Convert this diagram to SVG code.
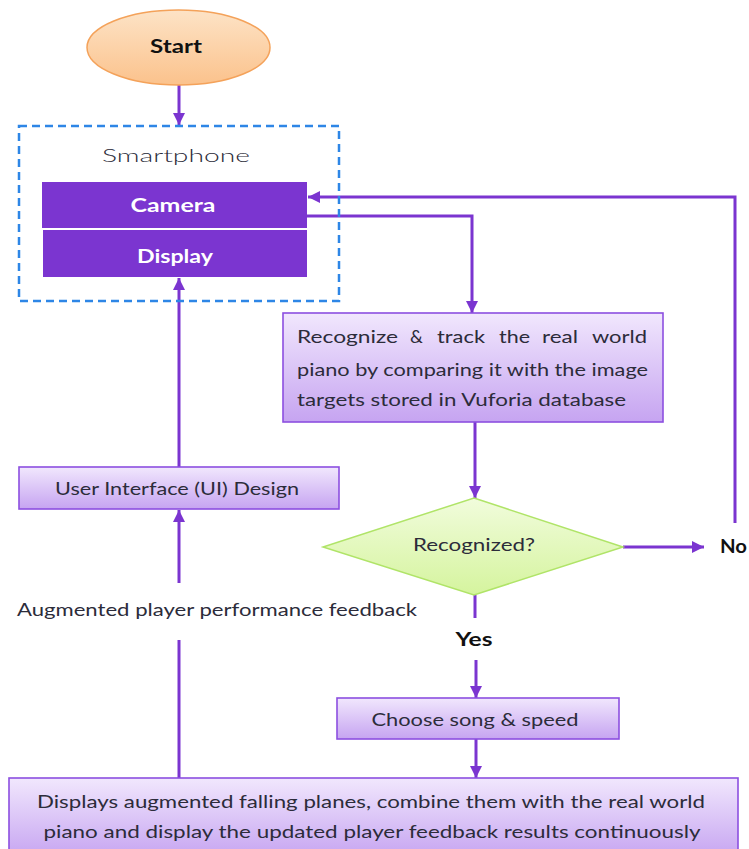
<svg xmlns="http://www.w3.org/2000/svg" width="749" height="849" viewBox="0 0 749 849">
<defs>
<linearGradient id="gLav" x1="0" y1="0" x2="0" y2="1"><stop offset="0" stop-color="#f1e7fd"/><stop offset="1" stop-color="#c6a4f1"/></linearGradient>
<linearGradient id="gOr" x1="0" y1="0" x2="0" y2="1"><stop offset="0" stop-color="#fde3c6"/><stop offset="1" stop-color="#fbc28c"/></linearGradient>
<linearGradient id="gGr" x1="0" y1="0" x2="0" y2="1"><stop offset="0" stop-color="#f1fcdc"/><stop offset="1" stop-color="#d5f49e"/></linearGradient>
<marker id="ah" markerWidth="12" markerHeight="12" refX="10" refY="5" orient="auto" markerUnits="userSpaceOnUse" viewBox="0 0 10 10"><path d="M0,0 L10,5 L0,10 z" fill="#7b35d0"/></marker>
</defs>
<style>
.t{font-family:Lato,"Open Sans","Liberation Sans",sans-serif;fill:#2c2c3a;font-size:18px}
.b{font-weight:bold;fill:#111}
.w{font-family:Lato,"Open Sans","Liberation Sans",sans-serif;font-weight:bold;fill:#ffffff;font-size:19px}
.lav{fill:url(#gLav);stroke:#8c4fe0;stroke-width:1.6}
.c{fill:none;stroke:#7b35d0;stroke-width:3}
.ca{fill:none;stroke:#7b35d0;stroke-width:3;marker-end:url(#ah)}
</style>
<rect width="749" height="849" fill="#ffffff"/>

<g id="connectors">
<path class="ca" d="M179 85 V125"/>
<path class="ca" d="M307 216 H472 V313"/>
<path class="ca" d="M475 422 V498"/>
<path class="ca" d="M623 547 H704"/>
<path class="ca" d="M735 523 V197 H308"/>
<path class="c" d="M475 595 V618"/>
<path class="ca" d="M476 660 V698"/>
<path class="ca" d="M476 739 V778"/>
<path class="c" d="M179 778 V640"/>
<path class="ca" d="M179 583 V510"/>
<path class="ca" d="M179 467 V278"/>
</g>

<g id="start">
<ellipse cx="178.5" cy="47.5" rx="91.5" ry="37.5" fill="url(#gOr)" stroke="#f4a25a" stroke-width="1.5"/>
<text class="t b" x="176" y="53" text-anchor="middle" font-size="19" textLength="52" lengthAdjust="spacingAndGlyphs">Start</text>
</g>

<g id="smartphone">
<rect x="19" y="126" width="320" height="175" fill="none" stroke="#2e86e6" stroke-width="2.5" stroke-dasharray="8,5"/>
<text class="t" x="176" y="162" text-anchor="middle" font-size="23" font-weight="300" fill="#3e3e4a" textLength="148" lengthAdjust="spacingAndGlyphs">Smartphone</text>
</g>

<g id="camera">
<rect x="42" y="182" width="265" height="46" fill="#7b35d0"/>
<text class="w" x="173" y="212" text-anchor="middle" textLength="85" lengthAdjust="spacingAndGlyphs">Camera</text>
</g>

<g id="display">
<rect x="43" y="230" width="264" height="47" fill="#7b35d0"/>
<text class="w" x="175" y="263" text-anchor="middle" textLength="76" lengthAdjust="spacingAndGlyphs">Display</text>
</g>

<g id="recognize">
<rect class="lav" x="283" y="313" width="380" height="109"/>
<text class="t" y="343"><tspan x="297" textLength="101" lengthAdjust="spacingAndGlyphs">Recognize</tspan><tspan x="410">&amp;</tspan><tspan x="437" textLength="48" lengthAdjust="spacingAndGlyphs">track</tspan><tspan x="499" textLength="31" lengthAdjust="spacingAndGlyphs">the</tspan><tspan x="542" textLength="36" lengthAdjust="spacingAndGlyphs">real</tspan><tspan x="592" textLength="55" lengthAdjust="spacingAndGlyphs">world</tspan></text>
<text class="t" x="297" y="376" textLength="351" lengthAdjust="spacingAndGlyphs">piano by comparing it with the image</text>
<text class="t" x="297" y="406" textLength="329" lengthAdjust="spacingAndGlyphs">targets stored in Vuforia database</text>
</g>

<g id="recognized">
<polygon points="474,498 623,547 474,595 323,547" fill="url(#gGr)" stroke="#b0e468" stroke-width="1.5"/>
<text class="t" x="474" y="551" text-anchor="middle" textLength="122" lengthAdjust="spacingAndGlyphs">Recognized?</text>
</g>

<g id="no">
<text class="t b" x="720" y="553" textLength="27" lengthAdjust="spacingAndGlyphs">No</text>
</g>

<g id="yes">
<text class="t b" x="474" y="646" text-anchor="middle" textLength="37" lengthAdjust="spacingAndGlyphs">Yes</text>
</g>

<g id="choose">
<rect class="lav" x="337" y="698" width="282" height="41"/>
<text class="t" x="475" y="726" text-anchor="middle" textLength="207" lengthAdjust="spacingAndGlyphs">Choose song &amp; speed</text>
</g>

<g id="ui">
<rect class="lav" x="19" y="467" width="320" height="42"/>
<text class="t" x="177" y="495" text-anchor="middle" textLength="244" lengthAdjust="spacingAndGlyphs">User Interface (UI) Design</text>
</g>

<g id="feedback-label">
<text class="t" x="217" y="616" text-anchor="middle" textLength="400" lengthAdjust="spacingAndGlyphs">Augmented player performance feedback</text>
</g>

<g id="displays">
<rect class="lav" x="9" y="778" width="729" height="80"/>
<text class="t" x="371" y="808" text-anchor="middle" textLength="668" lengthAdjust="spacingAndGlyphs">Displays augmented falling planes, combine them with the real world</text>
<text class="t" x="372" y="838" text-anchor="middle" textLength="657" lengthAdjust="spacingAndGlyphs">piano and display the updated player feedback results continuously</text>
</g>
</svg>
